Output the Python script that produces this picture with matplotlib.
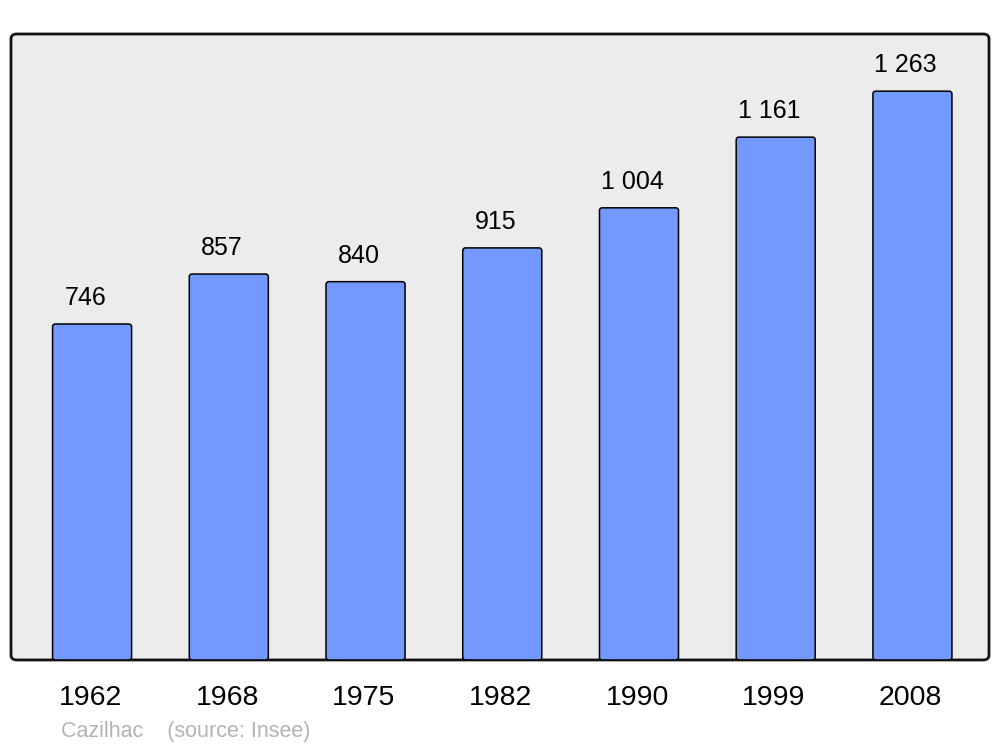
import matplotlib
matplotlib.use('Agg')
import matplotlib.pyplot as plt
from matplotlib.patches import FancyBboxPatch

years = ['1962', '1968', '1975', '1982', '1990', '1999', '2008']
population = [746, 857, 840, 915, 1004, 1161, 1263]
value_labels = ['746', '857', '840', '915', '1 004', '1 161', '1 263']

plt.rcParams['font.family'] = ['Liberation Sans', 'DejaVu Sans']

fig = plt.figure(figsize=(10, 7.47), dpi=100)
ax = fig.add_axes([0.011, 0.1165, 0.978, 0.838])
ax.set_xlim(-0.593, 6.56)
ax.set_ylim(0, 1390)
ax.axis('off')

# rounded frame behind everything
frame = FancyBboxPatch((0, 0), 1, 1, boxstyle='round,pad=0,rounding_size=0.006',
                       transform=ax.transAxes, facecolor='#ececec', edgecolor='#111111',
                       linewidth=2.0, mutation_aspect=1.29, clip_on=False, zorder=0)
ax.add_patch(frame)

x = list(range(len(years)))
bars = ax.bar(x, population, width=0.578, color='#7399ff')
# swap plain rectangles for slightly rounded ones
for b in bars:
    b.set_visible(False)
    r = FancyBboxPatch((b.get_x(), b.get_y()), b.get_width(), b.get_height(),
                       boxstyle='round,pad=0,rounding_size=0.02',
                       mutation_aspect=300, facecolor='#7399ff',
                       edgecolor='black', linewidth=1.1, zorder=2)
    ax.add_patch(r)

for xi, v, lab in zip(x, population, value_labels):
    ax.annotate(lab, (xi, v), xytext=(-5, 13.5), textcoords='offset points',
                ha='center', va='baseline', fontsize=18, color='black')

for xi, yr in zip(x, years):
    ax.annotate(yr, (xi, 0), xytext=(-1.2, -32.5), textcoords='offset points',
                ha='center', va='baseline', fontsize=20.5, color='black',
                annotation_clip=False)

fig.text(0.061, 1 - 737 / 747, 'Cazilhac    (source: Insee)', fontsize=15.5,
         color='#b3b3b3', ha='left', va='baseline')

fig.savefig('out.png', dpi=100, facecolor='white')
